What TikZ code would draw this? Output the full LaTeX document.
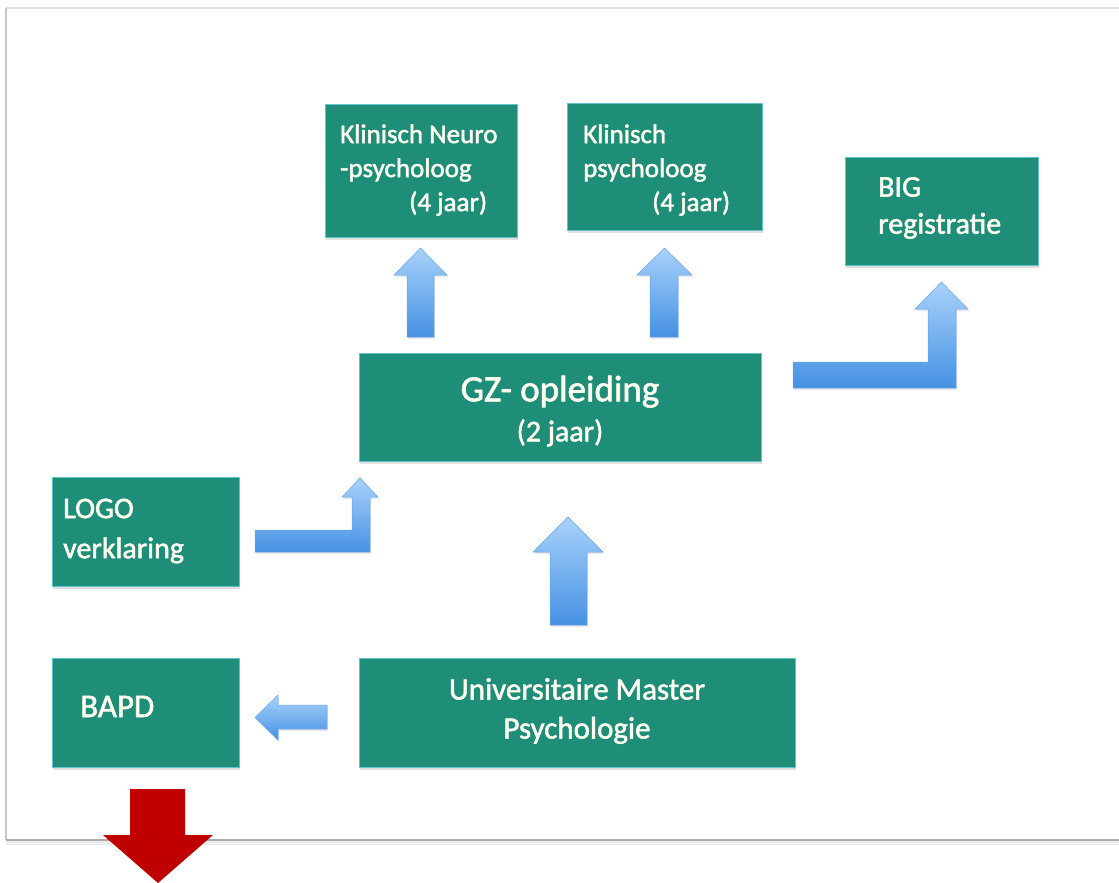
\documentclass[tikz,border=0pt]{standalone}
\usepackage{fontspec}
\setmainfont{Carlito}
\newfontfamily\txtfont[FakeBold=1.6]{Carlito}
\usetikzlibrary{shadows}
\definecolor{boxfill}{RGB}{31,142,121}
\definecolor{boxedge}{RGB}{95,195,205}
\definecolor{txtcol}{RGB}{255,253,240}
\definecolor{arrlight}{RGB}{168,210,251}
\definecolor{arrdark}{RGB}{70,145,226}
\definecolor{arredge}{RGB}{105,165,228}
\definecolor{redarrow}{RGB}{192,0,0}
\begin{document}
\begin{tikzpicture}[x=1pt,y=-1pt,
  box/.style={draw=boxedge, line width=0.8pt, fill=boxfill, inner sep=0pt, anchor=north west,
    drop shadow={opacity=0.25, shadow xshift=1pt, shadow yshift=-3pt}},
  txt/.style={text=txtcol, inner sep=0pt},
  blockarrow/.style={top color=arrlight, bottom color=arrdark, draw=arredge, line width=0.5pt,
    drop shadow={opacity=0.18, shadow xshift=1pt, shadow yshift=-2pt}}]
\useasboundingbox (0,0) rectangle (1119,883);
\fill[white] (0,0) rectangle (1119,883);
% frame
\draw[gray!15, line width=4pt] (6,843) -- (1119,843);
\draw[gray!25, line width=2pt] (6,8) -- (1119,8);
\draw[gray!45, line width=1.5pt] (6,8) -- (6,840);
\draw[gray!65, line width=2pt] (6,840) -- (1119,840);

% boxes
\node[box, minimum width=192, minimum height=133] (kn) at (325,104) {};
\node[box, minimum width=195, minimum height=127] (kp) at (567,103) {};
\node[box, minimum width=193, minimum height=108] (big) at (845,157) {};
\node[box, minimum width=402, minimum height=108] (gz) at (359,353) {};
\node[box, minimum width=187, minimum height=109] (logo) at (52,477) {};
\node[box, minimum width=187, minimum height=109] (bapd) at (52,658) {};
\node[box, minimum width=436, minimum height=109] (um) at (359,658) {};

% texts
\node[txt, align=left, anchor=west, font=\txtfont\fontsize{27}{34}\selectfont] (knt) at (340,170)
  {Klinisch Neuro\\-psycholoog\\\hspace*{69pt}(4 jaar)};
\node[txt, align=left, anchor=west, font=\txtfont\fontsize{27}{34}\selectfont] (kpt) at (583,170)
  {Klinisch\\psycholoog\\\hspace*{69pt}(4 jaar)};
\node[txt, align=left, anchor=west, font=\txtfont\fontsize{30}{37}\selectfont] (bigt) at (878,208)
  {BIG\\registratie};
\node[txt, align=center, font=\txtfont\fontsize{37}{41}\selectfont] (gzt) at (560,411)
  {GZ- opleiding\\[-1pt]{\fontsize{30}{36}\selectfont (2 jaar)}};
\node[txt, align=left, anchor=west, font=\txtfont\fontsize{30}{40}\selectfont] (logot) at (63,531)
  {LOGO\\verklaring};
\node[txt, anchor=base west, font=\txtfont\fontsize{33}{40}\selectfont] (bapdt) at (80,717) {BAPD};
\node[txt, align=center, font=\txtfont\fontsize{31}{39}\selectfont] (umt) at (577,711)
  {Universitaire Master\\Psychologie};

% block arrows
\path[blockarrow] (407,337) -- (407,275) -- (394,275) -- (420.5,248) -- (447,275) -- (434,275) -- (434,337) -- cycle;
\path[blockarrow] (650,337) -- (650,275) -- (637,275) -- (664.5,248) -- (692,275) -- (678,275) -- (678,337) -- cycle;
\path[blockarrow] (793,362) -- (928,362) -- (928,309) -- (915,309) -- (941.5,282) -- (968,309) -- (956,309) -- (956,388) -- (793,388) -- cycle;
\path[blockarrow] (255,530) -- (352,530) -- (352,497) -- (342,497) -- (360,478) -- (378,497) -- (370,497) -- (370,552) -- (255,552) -- cycle;
\path[blockarrow] (550,625) -- (550,552) -- (533,552) -- (568,517) -- (603,552) -- (587,552) -- (587,625) -- cycle;
\path[blockarrow] (327,705) -- (278,705) -- (278,695) -- (255,717.5) -- (278,740) -- (278,729) -- (327,729) -- cycle;

% red arrow
\fill[redarrow] (130,789) -- (185,789) -- (185,835) -- (213,835) -- (158,883) -- (103,835) -- (130,835) -- cycle;
\end{tikzpicture}
\end{document}
